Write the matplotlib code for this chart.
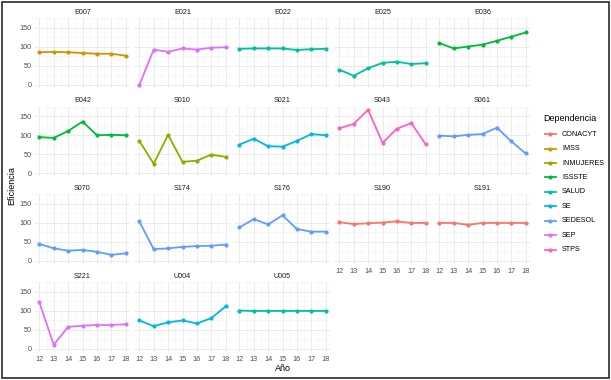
import matplotlib
matplotlib.use("Agg")
import matplotlib.pyplot as plt
from matplotlib.lines import Line2D
from matplotlib.patches import Rectangle

plt.rcParams["font.family"] = ["Liberation Sans", "DejaVu Sans"]

# ---------------- data ----------------
years = [12, 13, 14, 15, 16, 17, 18]
year_labels = ["12", "13", "14", "15", "16", "17", "18"]
y_ticks = [0, 50, 100, 150]

programs = ["E007", "E021", "E022", "E025", "E036",
            "E042", "S010", "S021", "S043", "S061",
            "S070", "S174", "S176", "S190", "S191",
            "S221", "U004", "U005"]
program_dep = ["IMSS", "SEP", "SALUD", "SALUD", "ISSSTE",
               "ISSSTE", "INMUJERES", "SE", "STPS", "SEDESOL",
               "SEDESOL", "SEDESOL", "SEDESOL", "CONACYT", "CONACYT",
               "SEP", "SE", "SALUD"]

e007 = [86, 87, 86, 84, 82, 82, 77]
e021 = [0, 93, 87, 96, 93, 98, 99]
e022 = [95, 96, 96, 96, 92, 94, 95]
e025 = [40, 24, 44, 58, 61, 55, 57]
e036 = [110, 96, 101, 106, 116, 127, 138]
e042 = [95, 93, 111, 136, 100, 101, 100]
s010 = [85, 25, 101, 30, 33, 49, 43]
s021 = [75, 91, 71, 70, 85, 103, 100]
s043 = [118, 130, 167, 80, 117, 132, 76]
s061 = [99, 97, 101, 103, 120, 84, 52]
s070 = [45, 33, 27, 29, 24, 16, 20]
s174 = [104, 31, 33, 37, 39, 40, 43]
s176 = [88, 110, 96, 120, 84, 77, 77]
s190 = [102, 97, 99, 101, 104, 100, 100]
s191 = [100, 100, 95, 100, 100, 100, 100]
s221 = [123, 11, 58, 61, 63, 63, 65]
u004 = [75, 60, 70, 75, 67, 81, 112]
u005 = [101, 100, 100, 100, 100, 100, 100]

series = [e007, e021, e022, e025, e036, e042, s010, s021, s043, s061,
          s070, s174, s176, s190, s191, s221, u004, u005]

dependencias = ["CONACYT", "IMSS", "INMUJERES", "ISSSTE", "SALUD",
                "SE", "SEDESOL", "SEP", "STPS"]
dep_colors = ["#F8766D", "#D39200", "#93AA00", "#00BA38", "#00C19F",
              "#00B9E3", "#619CFF", "#DB72FB", "#FF61C3"]
color_of = dict(zip(dependencias, dep_colors))

# ---------------- layout ----------------
W, H = 611, 380
fig = plt.figure(figsize=(W / 100, H / 100), dpi=100)
fig.patch.set_facecolor("white")

def fx(x):
    return x / W

def fy(y):
    return 1 - y / H

ncol = 5
col_left = [35, 135, 235, 335, 435]
row_top = [18.3, 106.6, 194.3, 282.3]
pw, ph = 95, 69.8

all_vals = [v for s in series for v in s]
ymin, ymax = min(all_vals), max(all_vals)
yr = ymax - ymin
ylim = (ymin - 0.05 * yr, ymax + 0.05 * yr)
xlim = (years[0] - 0.05 * (years[-1] - years[0]), years[-1] + 0.05 * (years[-1] - years[0]))

tick_color = "#4D4D4D"
grid_major = "#EBEBEB"
fs_small = 5.2
fs_title = 6.5

n = len(programs)
for i, (name, dep, vals) in enumerate(zip(programs, program_dep, series)):
    r, c = divmod(i, ncol)
    left = col_left[c]
    top = row_top[r]
    ax = fig.add_axes([fx(left), fy(top + ph), pw / W, ph / H])
    ax.set_xlim(*xlim)
    ax.set_ylim(*ylim)
    for s in ax.spines.values():
        s.set_visible(False)
    ax.set_xticks(years)
    ax.set_xticks([y + 0.5 for y in years[:-1]], minor=True)
    ax.set_yticks(y_ticks)
    ax.set_yticks([25, 75, 125, 175], minor=True)
    ax.grid(which="major", color=grid_major, lw=0.7)
    ax.grid(which="minor", color="#F2F2F2", lw=0.4)
    ax.set_axisbelow(True)
    ax.tick_params(which="both", length=0, labelsize=fs_small, labelcolor=tick_color)
    ax.tick_params(axis="y", pad=2.4)
    ax.tick_params(axis="x", pad=3.0)
    # y labels only first column
    if c == 0:
        ax.set_yticklabels([str(t) for t in y_ticks])
    else:
        ax.set_yticklabels([])
    # x labels on bottom panel of each column
    below = i + ncol
    if below >= n:
        ax.set_xticklabels(year_labels)
    else:
        ax.set_xticklabels([])
    col = color_of[dep]
    ax.plot(years, vals, color=col, lw=1.3, marker="o", ms=3.0, mew=0,
            solid_joinstyle="round", clip_on=False)
    fig.text(fx(left + pw / 2), fy(top - 6.3), name, ha="center", va="center",
             fontsize=fs_small, color="#1A1A1A")

# axis titles
fig.text(fx((col_left[0] + col_left[-1] + pw) / 2), fy(368.5), "Año",
         ha="center", va="center", fontsize=fs_title, color="black")
fig.text(fx(11.7), fy((row_top[0] + row_top[-1] + ph) / 2), "Eficiencia",
         ha="center", va="center", rotation=90, fontsize=fs_title, color="black")

# legend
fig.text(fx(543), fy(118), "Dependencia", ha="left", va="center",
         fontsize=fs_title, color="black")
for j, (dep, col) in enumerate(zip(dependencias, dep_colors)):
    yy = 134.3 + 14.4 * j
    fig.add_artist(Line2D([fx(545), fx(555.5)], [fy(yy), fy(yy)],
                          transform=fig.transFigure, color=col, lw=1.3))
    fig.add_artist(Line2D([fx(550.2)], [fy(yy)], transform=fig.transFigure,
                          color=col, marker="o", ms=3.0, mew=0))
    fig.text(fx(562), fy(yy), dep, ha="left", va="center",
             fontsize=fs_small, color="black")

# outer frame
fig.add_artist(Rectangle((fx(1.5), fy(378)), (607) / W, (376.5) / H,
                         transform=fig.transFigure, fill=False,
                         ec="#3A3A3A", lw=1.3))

fig.savefig("out.png", dpi=100, facecolor="white")
